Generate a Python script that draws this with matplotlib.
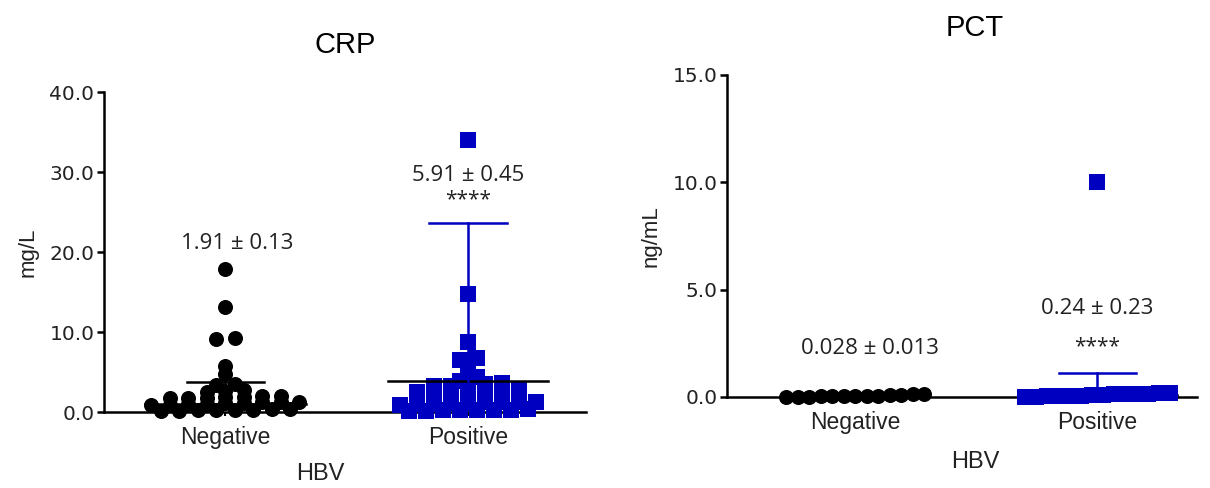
import numpy as np
import matplotlib
matplotlib.use("Agg")
from matplotlib import pyplot as plt

# data
groups = ["Negative", "Positive"]

crp_neg = [0.1, 0.1, 0.2, 0.2, 0.3, 0.3, 0.4, 0.4,
           0.9, 0.9, 1.0, 1.0, 1.1, 1.1, 1.2, 1.2, 1.3,
           1.7, 1.8, 1.8, 1.9, 1.9, 2.0, 2.0,
           2.5, 2.6, 2.7,
           3.4, 3.5, 4.7, 5.8, 9.1, 9.3, 13.1, 17.9]
crp_pos = [0.1, 0.1, 0.2, 0.2, 0.2, 0.3, 0.3, 0.4,
           0.9, 1.0, 1.0, 1.1, 1.1, 1.2, 1.2, 1.3, 1.3,
           1.8, 1.9, 1.9, 2.0, 2.0, 2.1, 2.1,
           2.5, 2.6, 2.7, 2.7, 2.8, 2.9, 2.9,
           3.2, 3.3, 3.4, 3.5, 3.6,
           3.9, 4.4, 4.9, 6.5, 6.7, 8.8, 14.7, 34.0]
pct_neg = [0.01, 0.02, 0.02, 0.03, 0.03, 0.03, 0.04, 0.05, 0.06, 0.08, 0.10, 0.12, 0.15]
pct_pos = [0.01, 0.02, 0.03, 0.04, 0.05, 0.06, 0.08, 0.10, 0.12, 0.15, 0.18, 0.20, 0.16, 0.14, 10.0]

crp_center = [1.0, 3.9]   # horizontal line
crp_top = [3.8, 23.6]     # error bar cap
pct_center = [0.03, 0.1]
pct_top = [0.05, 1.1]

crp_text = ["1.91 \u00b1 0.13", "5.91 \u00b1 0.45"]
pct_text = ["0.028 \u00b1 0.013", "0.24 \u00b1 0.23"]

BLUE = "#0000C0"
TXT = "#222222"
TICKFONT = "Liberation Sans"
NUMFONT = "DejaVu Sans"
ANNFONT = "Open Sans"


def swarm_x(ax, x0, vals, h, w):
    # graphpad-like scatter: bin by pixel row, spread points sideways
    vals = np.asarray(vals, float)
    pts = ax.transData.transform(np.column_stack([np.full(len(vals), x0), vals]))
    base = ax.transData.transform((x0, 0))
    rows = np.floor((pts[:, 1] - base[1]) / h).astype(int)
    xpx = np.zeros(len(vals))
    for r in np.unique(rows):
        idx = np.where(rows == r)[0]
        idx = idx[np.argsort(vals[idx])]
        n = len(idx)
        xpx[idx] = base[0] + (np.arange(n) - (n - 1) / 2) * w
    return ax.transData.inverted().transform(np.column_stack([xpx, pts[:, 1]]))[:, 0]


def style_axis(ax, ymax, step, ylab):
    ax.set_ylim(0, ymax)
    ticks = np.arange(0, ymax + step / 2, step)
    ax.set_yticks(ticks)
    ax.set_yticklabels(["%.1f" % v for v in ticks], family=NUMFONT, fontsize=14.5, color=TXT)
    ax.set_xticks([0, 1])
    ax.set_xticklabels(groups, family=TICKFONT, fontsize=16.5, color=TXT)
    for s in ["top", "right"]:
        ax.spines[s].set_visible(False)
    for s in ["left", "bottom"]:
        ax.spines[s].set_linewidth(1.8)
    ax.tick_params(axis="y", direction="out", length=5, width=1.8, pad=2)
    ax.tick_params(axis="x", direction="out", length=3, width=1.5, pad=7)
    ax.set_ylabel(ylab, family=TICKFONT, fontsize=16, color=TXT, labelpad=8)


def draw_bars(ax, center, top, colors, half_c, half_t, zc):
    for i in range(2):
        ax.plot([i - half_c[i], i + half_c[i]], [center[i], center[i]], color="black",
                lw=1.8, zorder=zc[i], clip_on=False)
        ax.plot([i, i], [center[i], top[i]], color=colors[i], lw=1.8, zorder=4)
        ax.plot([i - half_t, i + half_t], [top[i], top[i]], color=colors[i], lw=1.8, zorder=4)


fig = plt.figure(figsize=(12.1, 4.88), dpi=100)

# ---------------- CRP ----------------
ax1 = fig.add_axes([0.086, 0.1557, 0.398, 0.6557])
ax1.set_xlim(-0.5, 1.483)
style_axis(ax1, 40, 10, "mg/L")
ax1.scatter(swarm_x(ax1, 0, crp_neg, 6, 18.5), crp_neg, s=117, marker="o",
            color="black", zorder=3, clip_on=False, linewidths=0)
ax1.scatter(swarm_x(ax1, 1, crp_pos, 6, 17), crp_pos, s=125, marker="s",
            color=BLUE, zorder=3, clip_on=False, linewidths=0)
draw_bars(ax1, crp_center, crp_top, ["black", BLUE], [0.33, 0.33], 0.16, [4, 4])
ax1.text(0.05, 21.1, crp_text[0], ha="center", va="center", family=ANNFONT, fontsize=16, color=TXT)
ax1.text(1.0, 29.6, crp_text[1], ha="center", va="center", family=ANNFONT, fontsize=16, color=TXT)
ax1.text(1.0, 26.6, "****", ha="center", va="center", family=ANNFONT, fontsize=15, color=TXT)
fig.text(345 / 1210, 1 - 45 / 488, "CRP", ha="center", va="center", family=TICKFONT, fontsize=21, color="black")
fig.text(320 / 1210, 1 - 474 / 488, "HBV", ha="center", va="center", family=TICKFONT, fontsize=17, color=TXT)

# ---------------- PCT ----------------
ax2 = fig.add_axes([0.601, 0.1865, 0.388, 0.660])
ax2.set_xlim(-0.53, 1.41)
style_axis(ax2, 15, 5, "ng/mL")
ax2.scatter(swarm_x(ax2, 0, pct_neg, 8, 11.5), pct_neg, s=117, marker="o",
            color="black", zorder=3, clip_on=False, linewidths=0)
ax2.scatter(swarm_x(ax2, 1, pct_pos, 8, 11.2), pct_pos, s=125, marker="s",
            color=BLUE, zorder=3, clip_on=False, linewidths=0)
draw_bars(ax2, pct_center, pct_top, ["black", BLUE], [0.3, 0.33], 0.16, [2, 2])
ax2.text(0.06, 2.24, pct_text[0], ha="center", va="center", family=ANNFONT, fontsize=16, color=TXT)
ax2.text(1.0, 4.1, pct_text[1], ha="center", va="center", family=ANNFONT, fontsize=16, color=TXT)
ax2.text(1.0, 2.34, "****", ha="center", va="center", family=ANNFONT, fontsize=15, color=TXT)
fig.text(975 / 1210, 1 - 28 / 488, "PCT", ha="center", va="center", family=TICKFONT, fontsize=21, color="black")
fig.text(975 / 1210, 1 - 462 / 488, "HBV", ha="center", va="center", family=TICKFONT, fontsize=17, color=TXT)

fig.savefig("out.png", dpi=100)
